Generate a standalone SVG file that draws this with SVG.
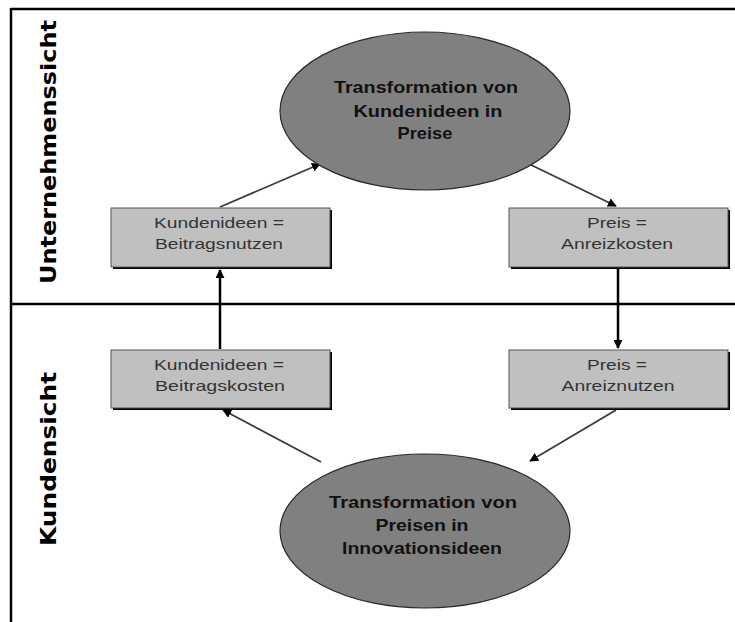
<svg xmlns="http://www.w3.org/2000/svg" width="735" height="622" viewBox="0 0 735 622">
<style>
.frame{stroke:#000;stroke-width:2.5;fill:none}
.ell{fill:#808080;stroke:#2a2a2a;stroke-width:1.2}
.box{fill:#c0c0c0;stroke:#555;stroke-width:1}
.shadow{fill:#000}
.et{font-family:"Liberation Sans",Arial,sans-serif;font-weight:bold;font-size:17px;fill:#111;text-anchor:middle}
.bt{font-family:"Liberation Sans",Arial,sans-serif;font-size:15px;fill:#333;text-anchor:middle}
.lane{font-family:"DejaVu Sans","Liberation Sans",sans-serif;font-weight:bold;font-size:22px;fill:#000;text-anchor:middle}
.thin{stroke:#3a3a3a;stroke-width:1.8;fill:none}
.thick{stroke:#000;stroke-width:2.5;fill:none}
</style>
<defs>
<marker id="ah" viewBox="0 0 10 10" refX="9" refY="5" markerWidth="9" markerHeight="9" markerUnits="userSpaceOnUse" orient="auto">
<path d="M0,0 L10,5 L0,10 z" fill="#000"/>
</marker>
</defs>
<g id="frame">
<line class="frame" x1="11" y1="9" x2="735" y2="9"/>
<line class="frame" x1="11" y1="8" x2="11" y2="622"/>
<line class="frame" x1="11" y1="304" x2="735" y2="304"/>
<text class="lane" transform="translate(56,152) rotate(-90)" textLength="264" lengthAdjust="spacingAndGlyphs">Unternehmenssicht</text>
<text class="lane" transform="translate(56,459) rotate(-90)" textLength="174" lengthAdjust="spacingAndGlyphs">Kundensicht</text>
</g>
<g id="connectors">
<line class="thin" x1="220" y1="207" x2="320" y2="164" marker-end="url(#ah)"/>
<line class="thin" x1="527" y1="163" x2="616" y2="206" marker-end="url(#ah)"/>
<line class="thick" x1="220" y1="349" x2="220" y2="270" marker-end="url(#ah)"/>
<line class="thick" x1="618" y1="269" x2="618" y2="348" marker-end="url(#ah)"/>
<line class="thin" x1="321" y1="462" x2="223" y2="410" marker-end="url(#ah)"/>
<line class="thin" x1="616" y1="410" x2="530" y2="461" marker-end="url(#ah)"/>
</g>
<g id="ellipse-top">
<ellipse class="ell" cx="425" cy="111" rx="145" ry="79"/>
<text class="et" x="426" y="93" textLength="184" lengthAdjust="spacingAndGlyphs">Transformation von</text>
<text class="et" x="428" y="117" textLength="149" lengthAdjust="spacingAndGlyphs">Kundenideen in</text>
<text class="et" x="425" y="139" textLength="55" lengthAdjust="spacingAndGlyphs">Preise</text>
</g>
<g id="ellipse-bottom">
<ellipse class="ell" cx="425" cy="531" rx="145" ry="77"/>
<text class="et" x="423" y="508" textLength="188" lengthAdjust="spacingAndGlyphs">Transformation von</text>
<text class="et" x="422" y="531" textLength="93" lengthAdjust="spacingAndGlyphs">Preisen in</text>
<text class="et" x="422" y="554" textLength="160" lengthAdjust="spacingAndGlyphs">Innovationsideen</text>
</g>
<g id="box-kundenideen-nutzen">
<rect class="shadow" x="113" y="210" width="219" height="59"/>
<rect class="box" x="111" y="208" width="219" height="59"/>
<text class="bt" x="219" y="228" textLength="130" lengthAdjust="spacingAndGlyphs">Kundenideen =</text>
<text class="bt" x="219" y="249" textLength="128" lengthAdjust="spacingAndGlyphs">Beitragsnutzen</text>
</g>
<g id="box-preis-kosten">
<rect class="shadow" x="511" y="210" width="219" height="59"/>
<rect class="box" x="509" y="208" width="219" height="59"/>
<text class="bt" x="617" y="228" textLength="60" lengthAdjust="spacingAndGlyphs">Preis =</text>
<text class="bt" x="617" y="249" textLength="112" lengthAdjust="spacingAndGlyphs">Anreizkosten</text>
</g>
<g id="box-kundenideen-kosten">
<rect class="shadow" x="113" y="352" width="219" height="58"/>
<rect class="box" x="111" y="350" width="219" height="58"/>
<text class="bt" x="219" y="370" textLength="130" lengthAdjust="spacingAndGlyphs">Kundenideen =</text>
<text class="bt" x="220" y="391" textLength="130" lengthAdjust="spacingAndGlyphs">Beitragskosten</text>
</g>
<g id="box-preis-nutzen">
<rect class="shadow" x="511" y="352" width="219" height="58"/>
<rect class="box" x="509" y="350" width="219" height="58"/>
<text class="bt" x="617" y="370" textLength="60" lengthAdjust="spacingAndGlyphs">Preis =</text>
<text class="bt" x="618" y="391" textLength="113" lengthAdjust="spacingAndGlyphs">Anreiznutzen</text>
</g>
</svg>
